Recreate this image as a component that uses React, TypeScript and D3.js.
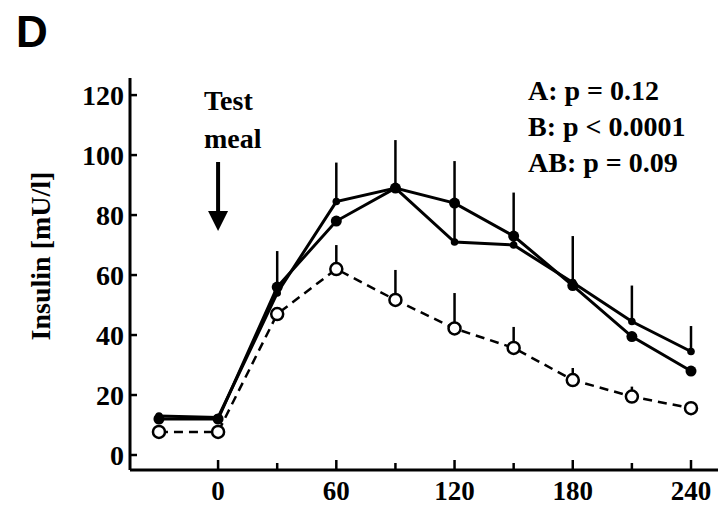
import React, { useEffect, useRef } from 'react';
import * as d3 from 'd3';

// minutes relative to the test meal
const times = [-30, 0, 30, 60, 90, 120, 150, 180, 210, 240];

// filled circles, solid line
const groupFilled = [12, 12, 56, 78, 89, 84, 73, 56.5, 39.5, 28];
// small filled markers, solid line (error bars drawn upward)
const groupSmall = [13, 12.5, 54, 84.5, 89, 71, 70, 57.5, 44.5, 34.5];
const groupSmallErr = [0, 0, 14, 13, 16, 27, 17.5, 15.5, 12, 8.5];
// open circles, dashed line
const groupOpen = [7.7, 7.7, 47, 62, 51.7, 42.2, 35.7, 25, 19.5, 15.6];
const groupOpenErr = [0, 0, 0, 8, 10, 11.8, 7, 4, 3.3, 2];

const yTicks = [0, 20, 40, 60, 80, 100, 120];
const xMajorTicks = [0, 60, 120, 180, 240];
const xMinorTicks = [30, 90, 150, 210];
const statLines = ['A: p = 0.12', 'B: p < 0.0001', 'AB: p = 0.09'];

const App = () => {
  const chartRef = useRef<SVGSVGElement>(null);

  useEffect(() => {
    const svg = d3.select(chartRef.current);
    svg.selectAll('*').remove();

    const serif = '"Liberation Serif", "Times New Roman", serif';

    const x = d3.scaleLinear().domain([-44.7, 253.7]).range([130, 718]);
    const y = d3.scaleLinear().domain([-5, 125.7]).range([470, 78]);

    // axes
    svg.append('line')
      .attr('x1', x(-44.7)).attr('x2', x(253.7))
      .attr('y1', y(-5)).attr('y2', y(-5))
      .attr('stroke', '#000').attr('stroke-width', 3);
    svg.append('line')
      .attr('x1', x(-44.7)).attr('x2', x(-44.7))
      .attr('y1', y(125.7)).attr('y2', y(-5))
      .attr('stroke', '#000').attr('stroke-width', 3);

    // y ticks (inward)
    svg.selectAll('.ytick')
      .data(yTicks)
      .enter()
      .append('line')
      .attr('x1', x(-44.7)).attr('x2', x(-44.7) + 7)
      .attr('y1', d => y(d)).attr('y2', d => y(d))
      .attr('stroke', '#000').attr('stroke-width', 2.5);

    svg.selectAll('.ylab')
      .data(yTicks)
      .enter()
      .append('text')
      .attr('x', 124)
      .attr('y', d => y(d))
      .attr('dy', '0.34em')
      .attr('text-anchor', 'end')
      .attr('font-family', serif)
      .attr('font-weight', 'bold')
      .attr('font-size', 28)
      .text(d => d);

    // x ticks (inward)
    svg.selectAll('.xmaj')
      .data(xMajorTicks)
      .enter()
      .append('line')
      .attr('x1', d => x(d)).attr('x2', d => x(d))
      .attr('y1', y(-5)).attr('y2', y(-5) - 10)
      .attr('stroke', '#000').attr('stroke-width', 2.5);
    svg.selectAll('.xmin')
      .data(xMinorTicks)
      .enter()
      .append('line')
      .attr('x1', d => x(d)).attr('x2', d => x(d))
      .attr('y1', y(-5)).attr('y2', y(-5) - 7)
      .attr('stroke', '#000').attr('stroke-width', 2.5);

    svg.selectAll('.xlab')
      .data(xMajorTicks)
      .enter()
      .append('text')
      .attr('x', d => x(d))
      .attr('y', 500)
      .attr('text-anchor', 'middle')
      .attr('font-family', serif)
      .attr('font-weight', 'bold')
      .attr('font-size', 27)
      .text(d => d);

    // y axis title
    svg.append('text')
      .attr('transform', 'translate(50,256) rotate(-90)')
      .attr('text-anchor', 'middle')
      .attr('font-family', serif)
      .attr('font-weight', 'bold')
      .attr('font-size', 28)
      .text('Insulin [mU/l]');

    // panel letter
    svg.append('text')
      .attr('x', 16).attr('y', 47)
      .attr('font-family', '"Liberation Sans", Arial, sans-serif')
      .attr('font-weight', 'bold')
      .attr('font-size', 44)
      .text('D');

    // test meal annotation
    svg.append('text')
      .attr('x', 204).attr('y', 110)
      .attr('font-family', serif).attr('font-weight', 'bold').attr('font-size', 28)
      .text('Test');
    svg.append('text')
      .attr('x', 204).attr('y', 148)
      .attr('font-family', serif).attr('font-weight', 'bold').attr('font-size', 28)
      .text('meal');
    svg.append('line')
      .attr('x1', x(0)).attr('x2', x(0))
      .attr('y1', 162).attr('y2', 214)
      .attr('stroke', '#000').attr('stroke-width', 4);
    svg.append('path')
      .attr('d', `M${x(0) - 10},211 L${x(0) + 10},211 L${x(0)},231 Z`)
      .attr('fill', '#000');

    // statistics
    svg.selectAll('.stat')
      .data(statLines)
      .enter()
      .append('text')
      .attr('x', 528)
      .attr('y', (_, i) => 100 + i * 36)
      .attr('font-family', serif)
      .attr('font-weight', 'bold')
      .attr('font-size', 28)
      .text(d => d);

    const line = d3.line<number>()
      .x((_, i) => x(times[i]))
      .y(d => y(d));

    // error bars
    svg.selectAll('.errSmall')
      .data(groupSmall)
      .enter()
      .append('line')
      .attr('x1', (_, i) => x(times[i])).attr('x2', (_, i) => x(times[i]))
      .attr('y1', d => y(d)).attr('y2', (d, i) => y(d + groupSmallErr[i]))
      .attr('stroke', '#000').attr('stroke-width', 2.5);
    svg.selectAll('.errOpen')
      .data(groupOpen)
      .enter()
      .append('line')
      .attr('x1', (_, i) => x(times[i])).attr('x2', (_, i) => x(times[i]))
      .attr('y1', d => y(d)).attr('y2', (d, i) => y(d + groupOpenErr[i]))
      .attr('stroke', '#000').attr('stroke-width', 2.5);

    // lines
    svg.append('path')
      .attr('d', line(groupOpen))
      .attr('fill', 'none').attr('stroke', '#000')
      .attr('stroke-width', 2.5).attr('stroke-dasharray', '9,6');
    svg.append('path')
      .attr('d', line(groupFilled))
      .attr('fill', 'none').attr('stroke', '#000').attr('stroke-width', 3);
    svg.append('path')
      .attr('d', line(groupSmall))
      .attr('fill', 'none').attr('stroke', '#000').attr('stroke-width', 3);

    // markers
    svg.selectAll('.mOpen')
      .data(groupOpen)
      .enter()
      .append('circle')
      .attr('cx', (_, i) => x(times[i])).attr('cy', d => y(d))
      .attr('r', 6)
      .attr('fill', '#fff').attr('stroke', '#000').attr('stroke-width', 2.5);
    svg.selectAll('.mFilled')
      .data(groupFilled)
      .enter()
      .append('circle')
      .attr('cx', (_, i) => x(times[i])).attr('cy', d => y(d))
      .attr('r', 5.5)
      .attr('fill', '#000');
    svg.selectAll('.mSmall')
      .data(groupSmall)
      .enter()
      .append('circle')
      .attr('cx', (_, i) => x(times[i])).attr('cy', d => y(d))
      .attr('r', 3.8)
      .attr('fill', '#000');
  }, []);

  return (
    <svg
      ref={chartRef}
      width={718}
      height={507}
      style={{ position: 'absolute', left: 0, top: 0, background: '#fff' }}
    />
  );
};

export default App;
